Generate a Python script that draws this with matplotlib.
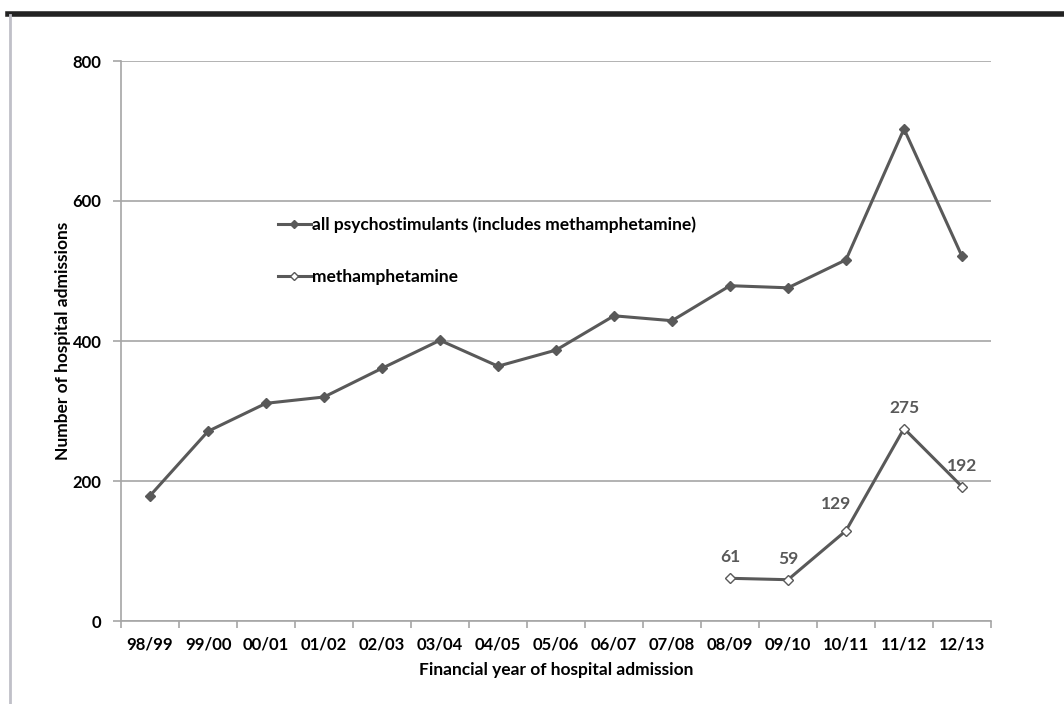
import matplotlib
matplotlib.use("Agg")
import matplotlib.pyplot as plt
from matplotlib.lines import Line2D

plt.rcParams['font.family'] = ['Lato', 'DejaVu Sans']

years = ['98/99', '99/00', '00/01', '01/02', '02/03', '03/04', '04/05', '05/06',
         '06/07', '07/08', '08/09', '09/10', '10/11', '11/12', '12/13']
all_psycho = [179, 271, 311, 320, 361, 401, 364, 387, 436, 429, 479, 476, 516, 703, 521]
meth_years = ['08/09', '09/10', '10/11', '11/12', '12/13']
meth = [61, 59, 129, 275, 192]

line_col = '#595959'
grid_col = '#a6a6a6'

fig = plt.figure(figsize=(10.64, 7.04), dpi=100)
ax = fig.add_axes([121 / 1064, 1 - 621 / 704, 870 / 1064, 560 / 704])

x_all = list(range(len(years)))
x_meth = [years.index(y) for y in meth_years]

ax.plot(x_all, all_psycho, color=line_col, lw=2.2, marker='D', ms=5,
        markerfacecolor=line_col, markeredgecolor=line_col, zorder=3)
ax.plot(x_meth, meth, color=line_col, lw=2.2, marker='D', ms=5,
        markerfacecolor='white', markeredgecolor=line_col, markeredgewidth=1, zorder=3)

# value labels for methamphetamine (offsets in points)
offsets = {0: (0, 15), 1: (0, 15), 2: (-7, 19), 3: (0, 15), 4: (0, 15)}
for i, (xv, yv) in enumerate(zip(x_meth, meth)):
    dx, dy = offsets[i]
    ax.annotate(str(yv), (xv, yv), xytext=(dx, dy), textcoords='offset points',
                ha='center', va='center', fontsize=12.5, fontweight='bold', color='#595959')

ax.set_xlim(-0.5, len(years) - 0.5)
ax.set_ylim(0, 800)
ax.set_yticks([0, 200, 400, 600, 800])
ax.set_xticks(x_all)
ax.set_xticklabels(years)
ax.set_xticks([i - 0.5 for i in range(len(years) + 1)], minor=True)

ax.yaxis.grid(True, color=grid_col, lw=1.2)
ax.set_axisbelow(True)
for s in ['top', 'right']:
    ax.spines[s].set_visible(False)
for s in ['left', 'bottom']:
    ax.spines[s].set_color(grid_col)
    ax.spines[s].set_linewidth(1.2)

ax.tick_params(axis='x', which='major', length=0, pad=11, labelsize=12)
ax.tick_params(axis='x', which='minor', length=5, color=grid_col, width=1.2, direction='out')
ax.tick_params(axis='y', length=6, color=grid_col, width=1.2, pad=8, labelsize=12)
for lab in ax.get_xticklabels() + ax.get_yticklabels():
    lab.set_fontweight('bold')

ax.set_xlabel('Financial year of hospital admission', fontsize=12.5, fontweight='bold', labelpad=7)
ax.set_ylabel('Number of hospital admissions', fontsize=12.5, fontweight='bold', labelpad=1)

handles = [
    Line2D([], [], color=line_col, lw=2.2, marker='D', ms=4.5, markerfacecolor=line_col),
    Line2D([], [], color=line_col, lw=2.2, marker='D', ms=4.5, markerfacecolor='white',
           markeredgewidth=1),
]
leg = ax.legend(handles, ['all psychostimulants (includes methamphetamine)', 'methamphetamine'],
                loc='upper left', bbox_to_anchor=(141 / 870, 1 - 140 / 560),
                frameon=False, handlelength=1.9, handletextpad=0.1, labelspacing=2.05,
                prop={'size': 12.5, 'weight': 'bold'})

# page framing: thick dark bar on top and grey rule on the left
fig.add_artist(Line2D([8 / 1064, 1], [1 - 13.5 / 704] * 2, color='#222222', lw=4,
                      transform=fig.transFigure))
fig.add_artist(Line2D([9.5 / 1064] * 2, [0, 1 - 15 / 704], color='#c0c0c8', lw=2,
                      transform=fig.transFigure))

fig.savefig('out.png', dpi=100)
